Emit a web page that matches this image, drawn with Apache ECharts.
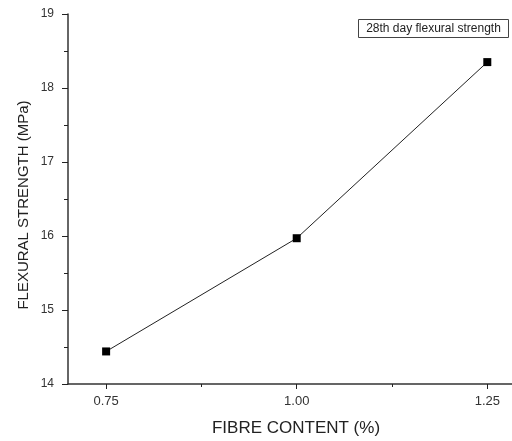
<!DOCTYPE html>
<html>
<head>
<meta charset="utf-8">
<script src="https://cdn.jsdelivr.net/npm/echarts@6/dist/echarts.min.js"></script>
<style>
  html, body { margin: 0; padding: 0; background: #fff; }
  #chart { width: 512px; height: 441px; }
</style>
</head>
<body>
<div id="chart"></div>
<script>
// Fibre content (%) and 28th day flexural strength (MPa)
const fibreContent = [0.75, 1.00, 1.25];
const flexuralStrength = [14.44, 15.97, 18.35];
const xMajorTicks = [0.75, 1.00, 1.25];
const xMinorTicks = [0.875, 1.125];
const seriesName = '28th day flexural strength';
const xTitle = 'FIBRE CONTENT (%)';
const yTitle = 'FLEXURAL STRENGTH (MPa)';

const FONT = '"Liberation Sans", Arial, sans-serif';
const chart = echarts.init(document.getElementById('chart'), null, { renderer: 'canvas' });

// The x range runs past the right edge of the canvas, so the axis line is cut there.
const xBase = {
  type: 'value', min: 0.7, max: 1.2824, position: 'bottom',
  splitLine: { show: false }
};

chart.setOption({
  animation: false,
  backgroundColor: '#ffffff',
  grid: { left: 68, right: 0, top: 14, bottom: 57, containLabel: false },
  xAxis: [
    Object.assign({}, xBase, {
      axisLine: { show: true, lineStyle: { color: '#333', width: 1.5 } },
      axisTick: { show: true, length: 5, customValues: xMajorTicks, lineStyle: { color: '#222', width: 1 } },
      axisLabel: {
        customValues: xMajorTicks, margin: 11,
        fontFamily: FONT, fontSize: 13, color: '#333',
        formatter: v => v.toFixed(2)
      }
    }),
    Object.assign({}, xBase, {
      axisLine: { show: false },
      axisTick: { show: true, length: 3, customValues: xMinorTicks, lineStyle: { color: '#222', width: 1 } },
      axisLabel: { show: false }
    })
  ],
  yAxis: {
    type: 'value', min: 14, max: 19, interval: 1,
    axisLine: { show: true, lineStyle: { color: '#333', width: 1.5 } },
    axisTick: { show: true, length: 6, lineStyle: { color: '#222', width: 1 } },
    minorTick: { show: true, splitNumber: 2, length: 4, lineStyle: { color: '#222', width: 1 } },
    axisLabel: { margin: 14, fontFamily: FONT, fontSize: 12, color: '#333' },
    splitLine: { show: false }
  },
  series: [{
    name: seriesName,
    type: 'line',
    xAxisIndex: 0,
    data: fibreContent.map((x, i) => [x, flexuralStrength[i]]),
    symbol: 'rect',
    symbolSize: 8,
    itemStyle: { color: '#000' },
    lineStyle: { color: '#222', width: 1 }
  }],
  graphic: [
    {
      type: 'text', x: 296, y: 428.5,
      style: { text: xTitle, fontFamily: FONT, fontSize: 17, fill: '#222',
               align: 'center', verticalAlign: 'middle' }
    },
    {
      type: 'text', x: 24, y: 205, rotation: Math.PI / 2,
      style: { text: yTitle, fontFamily: FONT, fontSize: 15, fill: '#222',
               align: 'center', verticalAlign: 'middle' }
    },
    {
      type: 'group',
      right: 3,
      top: 19,
      children: [
        { type: 'rect', shape: { x: 0, y: 0, width: 150, height: 18 },
          style: { fill: '#fff', stroke: '#444', lineWidth: 1 } },
        { type: 'text', x: 75, y: 9.5,
          style: { text: seriesName, fontFamily: FONT, fontSize: 12, fill: '#222',
                   align: 'center', verticalAlign: 'middle' } }
      ]
    }
  ]
});
</script>
</body>
</html>
